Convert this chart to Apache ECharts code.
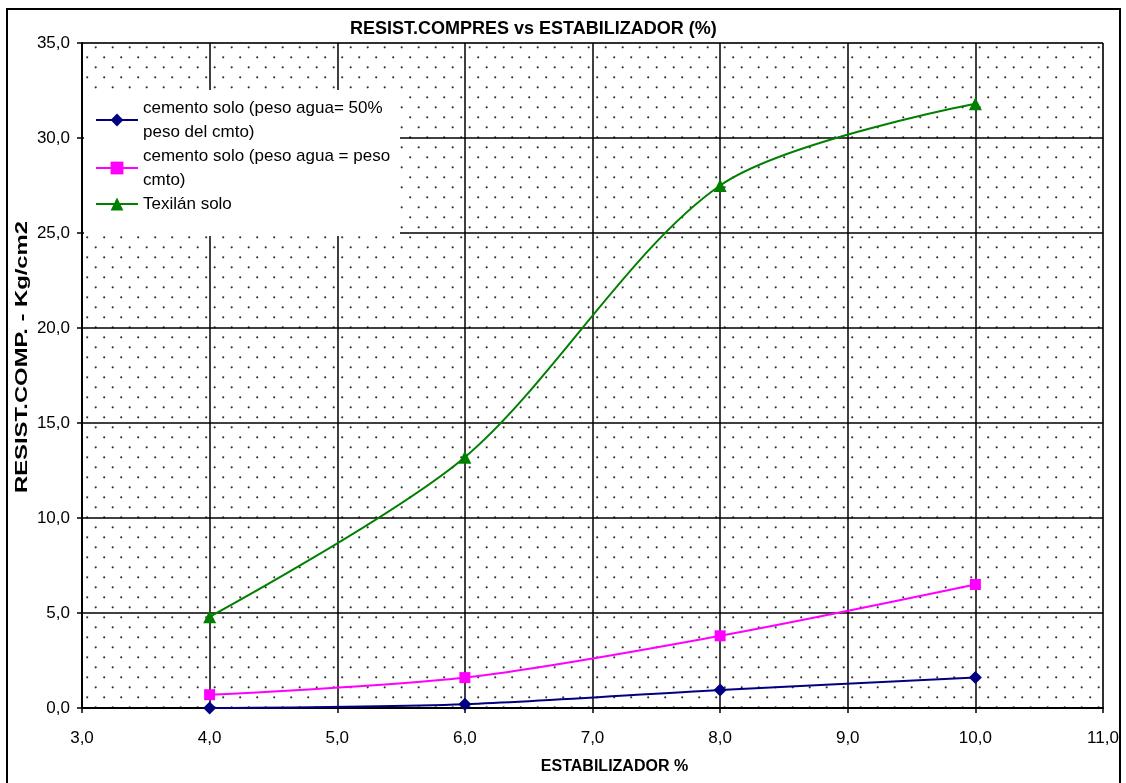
<!DOCTYPE html>
<html>
<head>
<meta charset="utf-8">
<script src="https://cdn.jsdelivr.net/npm/echarts@6/dist/echarts.min.js"></script>
<style>
html,body{margin:0;padding:0;background:#fff;}
#main{width:1126px;height:783px;}
</style>
</head>
<body>
<div id="main"></div>
<script>
// ---- data ----
var xValues = [4, 6, 8, 10];
var seriesNames = [
  'cemento solo (peso agua= 50% peso del cmto)',
  'cemento solo (peso agua = peso cmto)',
  'Texilán solo'
];
var legendLabels = [
  'cemento solo (peso agua= 50%\npeso del cmto)',
  'cemento solo (peso agua = peso\ncmto)',
  'Texilán solo'
];
var cementoA = [0.0, 0.2, 0.95, 1.6];
var cementoB = [0.7, 1.6, 3.8, 6.5];
var texilan = [4.8, 13.2, 27.5, 31.8];
var titleText = 'RESIST.COMPRES vs ESTABILIZADOR (%)';
var xAxisTitle = 'ESTABILIZADOR %';
var yAxisTitle = 'RESIST.COMP. - Kg/cm2';

function pairs(xs, ys) { return xs.map(function (x, i) { return [x, ys[i]]; }); }

// dotted background pattern
var tile = document.createElement('canvas');
tile.width = 17; tile.height = 20;
var tctx = tile.getContext('2d');
tctx.fillStyle = '#333';
tctx.beginPath(); tctx.arc(10.7, 7.3, 1.1, 0, Math.PI * 2); tctx.fill();
tctx.beginPath(); tctx.arc(2.2, 17.3, 1.1, 0, Math.PI * 2); tctx.fill();

var chart = echarts.init(document.getElementById('main'), null, {renderer: 'canvas'});
var fontFam = '"Liberation Sans", Arial, sans-serif';
function fmt(v) { return v.toFixed(1).replace('.', ','); }

chart.setOption({
  backgroundColor: '#fff',
  animation: false,
  title: {
    text: titleText, left: 345, top: 15,
    textStyle: {fontFamily: fontFam, fontSize: 18, fontWeight: 'bold', color: '#000'}
  },
  grid: {
    left: 82, right: 23, top: 43, bottom: 75,
    show: true, borderColor: '#808080', borderWidth: 1,
    backgroundColor: {image: tile, repeat: 'repeat'}
  },
  legend: {
    orient: 'vertical', left: 95, top: 84, z: 6,
    padding: 0,
    itemGap: -24, itemWidth: 42, itemHeight: 16,
    data: seriesNames,
    formatter: function (n) { return legendLabels[seriesNames.indexOf(n)]; },
    textStyle: {fontFamily: fontFam, fontSize: 17, color: '#000', lineHeight: 24, padding: [24, 0, 0, 0]}
  },
  xAxis: {
    type: 'value', min: 3, max: 11, interval: 1,
    name: xAxisTitle, nameLocation: 'middle', nameGap: 51,
    nameTextStyle: {fontFamily: fontFam, fontSize: 16, fontWeight: 'bold', color: '#000', padding: [0, 0, 0, 44]},
    axisLine: {show: true, onZero: false, lineStyle: {color: '#000', width: 2}},
    axisTick: {show: true, length: 5, lineStyle: {color: '#000', width: 1.5}},
    axisLabel: {fontFamily: fontFam, fontSize: 17, color: '#000', margin: 22, formatter: fmt},
    splitLine: {show: true, lineStyle: {color: '#000', width: 1.5}}
  },
  yAxis: {
    type: 'value', min: 0, max: 35, interval: 5,
    axisLine: {show: true, lineStyle: {color: '#000', width: 2}},
    axisTick: {show: true, length: 5, lineStyle: {color: '#000', width: 1.5}},
    axisLabel: {fontFamily: fontFam, fontSize: 17, color: '#000', margin: 12, formatter: fmt},
    splitLine: {show: true, lineStyle: {color: '#000', width: 1.5}}
  },
  series: [
    {
      name: seriesNames[0], type: 'line', data: pairs(xValues, cementoA),
      smooth: 0.3, symbol: 'diamond', symbolSize: 13,
      itemStyle: {color: '#000080'}, lineStyle: {color: '#000080', width: 2}, z: 3
    },
    {
      name: seriesNames[1], type: 'line', data: pairs(xValues, cementoB),
      smooth: 0.3, symbol: 'rect', symbolSize: 11,
      itemStyle: {color: '#ff00ff'}, lineStyle: {color: '#ff00ff', width: 2}, z: 3
    },
    {
      name: seriesNames[2], type: 'line', data: pairs(xValues, texilan),
      smooth: 0.3, symbol: 'triangle', symbolSize: 13,
      itemStyle: {color: '#008000'}, lineStyle: {color: '#008000', width: 2}, z: 3
    }
  ],
  graphic: [
    {
      type: 'rect', z: 4, silent: true,
      shape: {x: 84, y: 90, width: 316, height: 146},
      style: {fill: '#fff', stroke: null}
    },
    {
      type: 'text', z: 5, silent: true,
      x: 22, y: 357, rotation: Math.PI / 2, scaleX: 1.4,
      style: {
        text: yAxisTitle, fontFamily: fontFam, fontSize: 17, fontWeight: 'bold',
        fill: '#000', align: 'center', verticalAlign: 'middle'
      }
    },
    {
      type: 'rect', z: 100, silent: true,
      shape: {x: 7, y: 9, width: 1113, height: 800},
      style: {fill: 'none', stroke: '#000', lineWidth: 2}
    }
  ]
});
</script>
</body>
</html>
